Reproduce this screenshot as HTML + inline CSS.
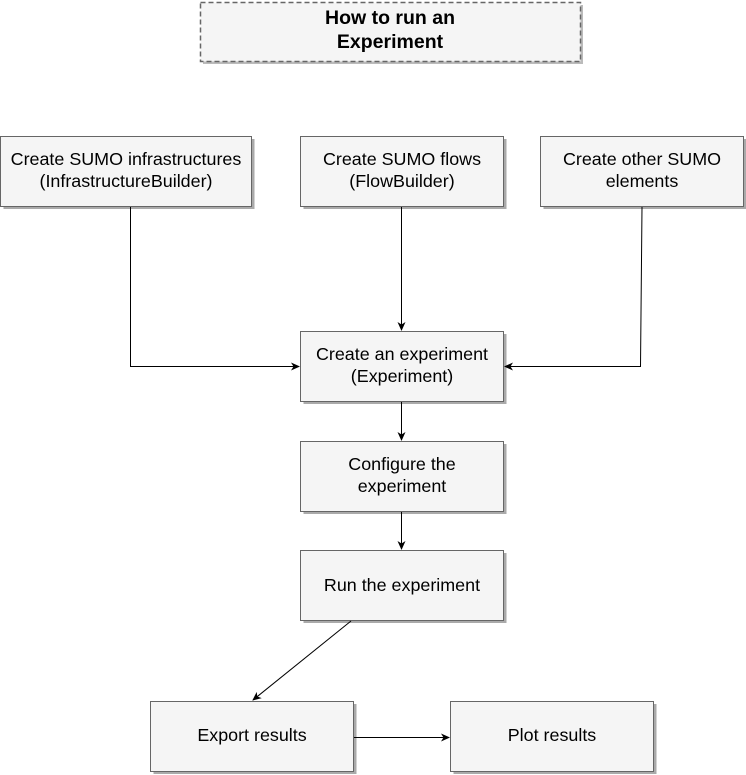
<!DOCTYPE html>
<html><head><meta charset="utf-8"><style>
html,body{margin:0;padding:0;background:#fff;}
svg{display:block;}
text{font-family:"Liberation Sans",Arial,sans-serif;font-size:17.9px;fill:#000;}
</style></head><body>
<svg width="746" height="775" viewBox="0 0 746 775" xmlns="http://www.w3.org/2000/svg">
<defs>
<marker id="a" markerWidth="10" markerHeight="10" refX="8" refY="5" orient="auto" markerUnits="userSpaceOnUse">
<path d="M0,1 L9,5 L0,9 L2.5,5 Z" fill="#000"/>
</marker>
</defs>
<!-- title -->
<rect x="203" y="5" width="380" height="59" fill="#bbb"/>
<rect x="200.5" y="2.5" width="380" height="59" fill="#f5f5f5" stroke="#666" stroke-width="1.5" stroke-dasharray="5 3"/>
<text x="390" y="24" text-anchor="middle" style="font-weight:bold;font-size:19.5px">How to run an</text>
<text x="390" y="48" text-anchor="middle" style="font-weight:bold;font-size:19.5px">Experiment</text>
<g fill="#aaa">
<rect x="3.5" y="139" width="251" height="70"/>
<rect x="303.5" y="139" width="203" height="70"/>
<rect x="543.5" y="139" width="203" height="70"/>
<rect x="303.5" y="334" width="203" height="70"/>
<rect x="303.5" y="444" width="203" height="70"/>
<rect x="303.5" y="553" width="203" height="70"/>
<rect x="153.5" y="704" width="203" height="70"/>
<rect x="453.5" y="704" width="203" height="70"/>
</g>
<g fill="#f5f5f5" stroke="#666">
<rect x="0.5" y="136.5" width="251" height="70"/>
<rect x="300.5" y="136.5" width="203" height="70"/>
<rect x="540.5" y="136.5" width="203" height="70"/>
<rect x="300.5" y="331.5" width="203" height="70"/>
<rect x="300.5" y="441.5" width="203" height="70"/>
<rect x="300.5" y="550.5" width="203" height="70"/>
<rect x="150.5" y="701.5" width="203" height="70"/>
<rect x="450.5" y="701.5" width="203" height="70"/>
</g>
<g stroke="#000" fill="none" marker-end="url(#a)">
<path d="M130.5 207 V366.5 H299"/>
<path d="M401.5 207 V330"/>
<path d="M642 207 L640.5 366.5 H505"/>
<path d="M401.5 402 V440"/>
<path d="M401.5 512 V549"/>
<path d="M351 621 L253 700"/>
<path d="M354 737.5 H449"/>
</g>
<text x="126" y="165" text-anchor="middle">Create SUMO infrastructures</text>
<text x="126" y="187" text-anchor="middle">(InfrastructureBuilder)</text>
<text x="402" y="165" text-anchor="middle">Create SUMO flows</text>
<text x="402" y="187" text-anchor="middle">(FlowBuilder)</text>
<text x="642" y="165" text-anchor="middle">Create other SUMO</text>
<text x="642" y="187" text-anchor="middle">elements</text>
<text x="402" y="360" text-anchor="middle">Create an experiment</text>
<text x="402" y="382" text-anchor="middle">(Experiment)</text>
<text x="402" y="470" text-anchor="middle">Configure the</text>
<text x="402" y="492" text-anchor="middle">experiment</text>
<text x="402" y="591" text-anchor="middle">Run the experiment</text>
<text x="252" y="741" text-anchor="middle">Export results</text>
<text x="552" y="741" text-anchor="middle">Plot results</text>
</svg>
</body></html>
